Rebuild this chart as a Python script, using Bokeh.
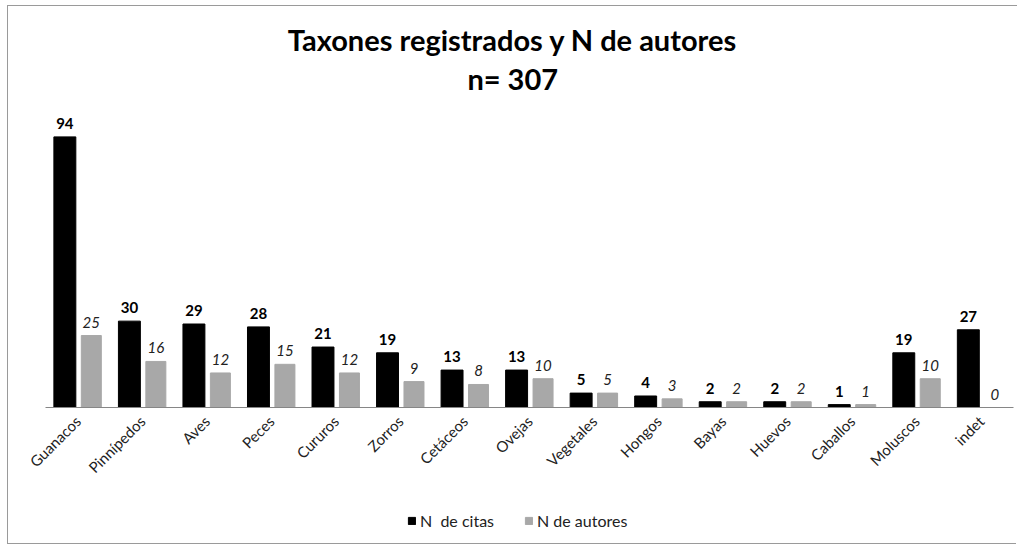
import math
from bokeh.plotting import figure
from bokeh.layouts import column
from bokeh.models import FactorRange, Range1d, Legend, LegendItem, ColumnDataSource
from bokeh.transform import dodge
from bokeh.core.properties import value
from bokeh.embed import file_html
from bokeh.resources import INLINE

categories = ["Guanacos", "Pinnípedos", "Aves", "Peces", "Cururos", "Zorros", "Cetáceos",
              "Ovejas", "Vegetales", "Hongos", "Bayas", "Huevos", "Caballos", "Moluscos", "indet"]
citas = [94, 30, 29, 28, 21, 19, 13, 13, 5, 4, 2, 2, 1, 19, 27]
autores = [25, 16, 12, 15, 12, 9, 8, 10, 5, 3, 2, 2, 1, 10, 0]
series_names = ["N  de citas", "N de autores"]
series_colors = ["black", "#a8a8a8"]
title_line1 = "Taxones registrados y N de autores"
title_line2 = "n= 307"

FONT = value("Lato")
BORDER = "1px solid #9a9a9a"

src = ColumnDataSource(dict(
    cat=categories, citas=citas, autores=autores,
    citas_lbl=[str(v) for v in citas], autores_lbl=[str(v) for v in autores],
))

p = figure(
    x_range=FactorRange(*categories),
    y_range=Range1d(0, 137.9),
    frame_width=967, frame_height=396,
    min_border_left=37, min_border_right=5, min_border_top=4, min_border_bottom=78,
    output_backend="svg", toolbar_location=None,
)
p.margin = (5, 0, 0, 7)
p.styles = {"border-left": BORDER, "border-top": BORDER}

p.vbar(x=dodge("cat", -0.2, range=p.x_range), top="citas", width=0.34, source=src,
       fill_color=series_colors[0], line_color=series_colors[0])
p.vbar(x=dodge("cat", 0.21, range=p.x_range), top="autores", width=0.31, source=src,
       fill_color=series_colors[1], line_color=series_colors[1])

p.text(x=dodge("cat", -0.2, range=p.x_range), y="citas", text="citas_lbl", source=src,
       text_align="center", text_baseline="bottom", y_offset=-8,
       text_font=FONT, text_font_style="bold", text_font_size="15px", text_color="black")
p.text(x=dodge("cat", 0.21, range=p.x_range), y="autores", text="autores_lbl", source=src,
       text_align="center", text_baseline="bottom", y_offset=-8,
       text_font=FONT, text_font_style="italic", text_font_size="15px", text_color="#222222")

tsrc = ColumnDataSource(dict(x=["Ovejas", "Ovejas"], y=[127.9, 114.3], t=[title_line1, title_line2]))
p.text(x=dodge("x", -0.26, range=p.x_range), y="y", text="t", source=tsrc,
       text_align="center", text_baseline="middle",
       text_font=FONT, text_font_style="bold", text_font_size="29px", text_color="black")

p.yaxis.visible = False
p.xgrid.grid_line_color = None
p.ygrid.grid_line_color = None
p.outline_line_color = None
p.xaxis.axis_line_color = "#868686"
p.xaxis.major_tick_line_color = None
p.xaxis.minor_tick_line_color = None
p.xaxis.major_label_orientation = math.pi / 4
p.xaxis.major_label_text_font = "Lato"
p.xaxis.major_label_text_font_size = "15px"
p.xaxis.major_label_text_color = "#222222"

# legend strip below the chart
lg = figure(width=1009, height=60, x_range=Range1d(0, 1), y_range=Range1d(0, 1),
            x_axis_type=None, y_axis_type=None, min_border=0,
            output_backend="svg", toolbar_location=None)
lg.margin = (0, 0, 0, 7)
lg.styles = {"border-left": BORDER, "border-bottom": BORDER}
lg.outline_line_color = None
lg.xgrid.grid_line_color = None
lg.ygrid.grid_line_color = None
# zero-size swatch renderers (only used to give the legend its colours)
swatch = ColumnDataSource(dict(x=[0.5], top=[0.5], bottom=[0.5]))
rl1 = lg.vbar(x="x", top="top", bottom="bottom", width=0, source=swatch,
              fill_color=series_colors[0], line_color=series_colors[0])
rl2 = lg.vbar(x="x", top="top", bottom="bottom", width=0, source=swatch,
              fill_color=series_colors[1], line_color=series_colors[1])
legend = Legend(items=[LegendItem(label=series_names[0], renderers=[rl1]),
                       LegendItem(label=series_names[1], renderers=[rl2])],
                orientation="horizontal", location=(362, 14),
                border_line_color=None, background_fill_alpha=0,
                label_text_font="Lato", label_text_font_size="16px",
                label_text_color="#222222",
                glyph_width=9, glyph_height=9, spacing=30, padding=0, margin=0,
                label_standoff=4)
lg.add_layout(legend)

layout = column(p, lg, spacing=0)
open("out.html", "w").write(file_html(layout, INLINE))
